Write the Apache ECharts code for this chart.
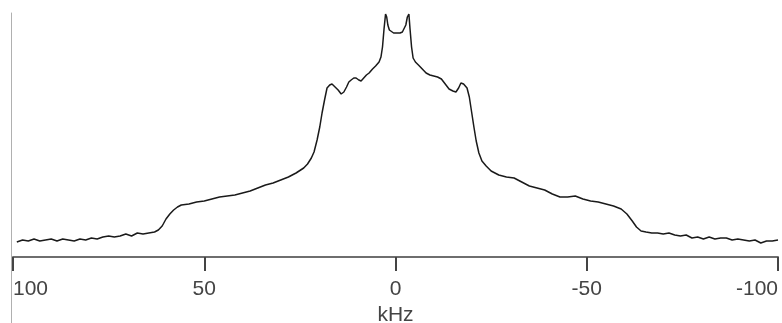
<!DOCTYPE html>
<html>
<head>
<meta charset="utf-8">
<script src="https://cdn.jsdelivr.net/npm/echarts@6/dist/echarts.min.js"></script>
<style>
  html, body { margin: 0; padding: 0; background: #fff; }
  #chart { width: 782px; height: 323px; }
</style>
</head>
<body>
<div id="chart"></div>
<script>
// frequency offset (kHz) and intensity
const freqKHz = [
  99, 97.5, 96, 94.5, 93, 91.5, 90, 88.5, 87, 85.5, 84, 82.5, 81, 79.5, 78, 76.5,
  75, 73.5, 72, 70.5, 69, 67.5, 66, 64.5, 63, 62,
  61, 60, 59, 58, 57, 56, 54, 52, 50, 48, 46, 44, 42, 40, 38, 36, 34, 32, 30, 28,
  26, 24, 23, 22, 21.3, 20.5, 19.8, 19.2, 18.5, 17.9, 17.2, 16.6, 15.8, 15, 14.2,
  13.5, 12.8, 12.2, 11.6, 10.9, 10.3, 9.6, 9, 8.3, 7.6, 6.9, 6, 5.2, 4.3, 3.8, 3.4,
  3, 2.6, 2.3, 2, 1.6, 1.2, 0.5, 0, -0.5, -1.2, -1.8, -2.3, -2.7, -3.1, -3.5, -3.8,
  -4.2, -4.6, -5.2, -6, -7, -8, -9, -10, -11, -12, -13, -14, -15, -15.8, -16.5,
  -17.1, -17.8, -18.7, -19.3, -19.9, -20.5, -21.1, -21.8, -22.6, -23.7, -25, -27,
  -29, -31, -33, -35, -37, -39, -41, -43, -45, -47, -49, -51, -53, -55, -57, -59,
  -60.5, -61.9, -63, -64.2, -65.5, -67, -68.5, -70, -71.5, -73, -74.5, -76, -77.5,
  -79, -80.5, -82, -83.5, -85, -86.5, -88, -89.5, -91, -92.5, -94, -95.5, -97,
  -98.5, -100
];
const intensity = [
  15, 17, 16, 18, 16, 17, 18, 16, 18, 17, 16, 18, 17, 19, 18, 20,
  21, 20, 21, 23, 21, 24, 23, 24, 25, 27,
  31, 38, 43, 47, 50, 52, 53, 55, 56, 58, 60, 61, 62, 64, 66, 69, 72, 74, 77, 80,
  84, 89, 93, 99, 105, 117, 130, 144, 158, 169, 172, 173, 170, 167, 163,
  165, 170, 175, 177, 179, 179, 177, 176, 179, 182, 184, 188, 191, 195, 200, 210,
  228, 243, 240, 232, 227, 225, 224, 224, 224, 224, 225, 226, 232, 240, 243, 228,
  210, 199, 195, 192, 188, 184, 182, 181, 180, 178, 173, 168, 166, 165, 169,
  174, 173, 169, 160, 145, 130, 116, 104, 96, 91, 86, 82,
  80, 79, 75, 71, 69, 67, 63, 60, 60, 61, 58, 56, 55, 53, 51, 48,
  43, 36, 30, 26, 25, 24, 24, 23, 24, 22, 21, 22, 19,
  20, 18, 20, 18, 19, 19, 17, 18, 17, 16, 17, 14, 16,
  16, 17
];
const xTicks = [-100, -50, 0, 50, 100];

const chart = echarts.init(document.getElementById('chart'), null, { renderer: 'canvas' });
const font = '"Liberation Sans", Arial, sans-serif';

chart.setOption({
  animation: false,
  backgroundColor: '#fff',
  textStyle: { fontFamily: font },
  grid: [
    { left: 13, right: 4, top: 13, bottom: 66, outerBoundsMode: 'none' },
    // thin frame line on the left edge
    { left: 11, width: 1, top: 13, bottom: 0, outerBoundsMode: 'none' }
  ],
  xAxis: [
    {
      type: 'value',
      gridIndex: 0,
      inverse: true,
      min: xTicks[0],
      max: xTicks[xTicks.length - 1],
      interval: 50,
      name: 'kHz',
      nameLocation: 'middle',
      nameGap: 47,
      nameTextStyle: { fontSize: 21, color: '#444', fontFamily: font },
      axisLine: { show: true, onZero: false, lineStyle: { color: '#6e6e6e', width: 2 } },
      axisTick: { show: true, length: 14, lineStyle: { color: '#444', width: 2 } },
      axisLabel: {
        fontSize: 21, color: '#444', margin: 22, fontFamily: font,
        alignMinLabel: 'right', alignMaxLabel: 'left'
      },
      splitLine: { show: false }
    },
    { type: 'value', gridIndex: 1, show: false }
  ],
  yAxis: [
    { type: 'value', gridIndex: 0, min: 0, max: 244, show: false },
    {
      type: 'value', gridIndex: 1, min: 0, max: 1,
      axisLine: { show: true, lineStyle: { color: '#b0b0b0', width: 1 } },
      axisTick: { show: false }, axisLabel: { show: false }, splitLine: { show: false }
    }
  ],
  series: [
    {
      type: 'line',
      xAxisIndex: 0,
      yAxisIndex: 0,
      data: freqKHz.map((f, i) => [f, intensity[i]]),
      showSymbol: false,
      clip: false,
      lineStyle: { color: '#1a1a1a', width: 1.5 }
    }
  ]
});
</script>
</body>
</html>
